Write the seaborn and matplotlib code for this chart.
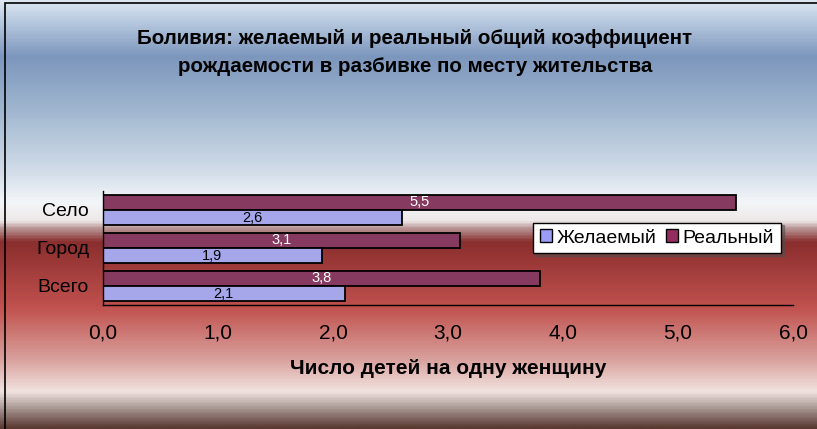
import matplotlib
matplotlib.use("Agg")
import matplotlib.pyplot as plt
import seaborn as sns
import numpy as np
import pandas as pd
from matplotlib.colors import LinearSegmentedColormap
from matplotlib.patches import Patch, Rectangle

# data
places = ["Село", "Город", "Всего"]
desired = [2.6, 1.9, 2.1]
actual = [5.5, 3.1, 3.8]
series = ["Желаемый", "Реальный"]
x_ticks = [0, 1, 2, 3, 4, 5, 6]

title = ("Боливия: желаемый и реальный общий коэффициент\n"
         "рождаемости в разбивке по месту жительства")
x_label = "Число детей на одну женщину"

c_desired = "#9a9cf5"
c_actual = "#932d5f"

df = pd.DataFrame({
    "place": places * 2,
    "value": actual + desired,
    "series": [series[1]] * len(places) + [series[0]] * len(places),
})

sns.set_theme(style="white")
plt.rcParams["font.family"] = ["Liberation Sans", "DejaVu Sans"]
plt.rcParams["text.color"] = "black"
plt.rcParams["axes.labelcolor"] = "black"
plt.rcParams["xtick.color"] = "black"
plt.rcParams["ytick.color"] = "black"

fig = plt.figure(figsize=(8.17, 4.29), dpi=100)

# background gradient over the whole figure
bg = fig.add_axes([0, 0, 1, 1], zorder=-10)
stops = [(0.0, "#dce6f0"), (0.03, "#c4d4e6"), (0.13, "#7c96bc"), (0.26, "#a2b8d0"),
         (0.40, "#d2dde9"), (0.47, "#f3f6f9"), (0.515, "#eee8e8"), (0.535, "#b48c8c"),
         (0.565, "#8a2e2e"), (0.72, "#c1524f"), (0.84, "#d9a19d"), (0.915, "#f1e3df"),
         (0.945, "#b9aaa6"), (1.0, "#5a3a32")]
cmap = LinearSegmentedColormap.from_list("bg", stops)
bg.imshow(np.linspace(0, 1, 400).reshape(-1, 1), aspect="auto", cmap=cmap,
          extent=[0, 1, 0, 1])
bg.set_xlim(0, 1)
bg.set_ylim(0, 1)
bg.axis("off")
fig.patches.append(Rectangle((5 / 817, -0.1), 1.2, 1.1 - 3 / 429, transform=fig.transFigure,
                             fill=False, edgecolor="black", linewidth=1.2, zorder=5))

ax = fig.add_axes([103 / 817, 1 - 305 / 429, 690 / 817, 114 / 429])
ax.patch.set_alpha(0)
sns.barplot(data=df, y="place", x="value", hue="series", order=places,
            hue_order=[series[1], series[0]], orient="h",
            palette=[c_actual, c_desired], edgecolor="black", linewidth=1.3,
            width=0.8, ax=ax, legend=False)

# value labels in the middle of each bar
for cont, col in zip(ax.containers, ["white", "black"]):
    for bar in cont:
        w = bar.get_width()
        ax.text(w / 2, bar.get_y() + bar.get_height() / 2, f"{w:.1f}".replace(".", ","),
                ha="center", va="center", fontsize=10.5, color=col)

ax.set_xlim(0, 6)
ax.set_xticks(x_ticks)
ax.set_xticklabels([f"{t:.1f}".replace(".", ",") for t in x_ticks], fontsize=15)
ax.set_yticks(range(len(places)))
ax.set_yticklabels(places, fontsize=14)
ax.set_yticks([-0.5, 0.5, 1.5, 2.5], minor=True)
ax.tick_params(axis="y", which="major", length=0, pad=10)
ax.tick_params(axis="y", which="minor", length=5, width=1, color="black", direction="out")
ax.tick_params(axis="x", length=5, width=1, color="black", direction="out", pad=8)
ax.set_ylabel("")
ax.set_xlabel(x_label, fontsize=15, fontweight="bold", labelpad=12)
for s in ["top", "right"]:
    ax.spines[s].set_visible(False)
for s in ["left", "bottom"]:
    ax.spines[s].set_color("black")
    ax.spines[s].set_linewidth(1)

handles = [Patch(facecolor=c_desired, edgecolor="black"),
           Patch(facecolor=c_actual, edgecolor="black")]
leg = fig.legend(handles, series, loc="center", bbox_to_anchor=(657 / 817, 1 - 238 / 429),
                 ncol=2, fontsize=14, frameon=True, fancybox=False, shadow=True,
                 handlelength=0.6, handleheight=0.6, handletextpad=0.25, columnspacing=0.5,
                 borderpad=0.35)
leg.get_frame().set_edgecolor("black")
leg.get_frame().set_linewidth(1)

fig.text(415 / 817, 1 - 53 / 429, title, ha="center", va="center", fontsize=14.8,
         fontweight="bold", linespacing=1.6)

fig.savefig("out.png", dpi=100)
